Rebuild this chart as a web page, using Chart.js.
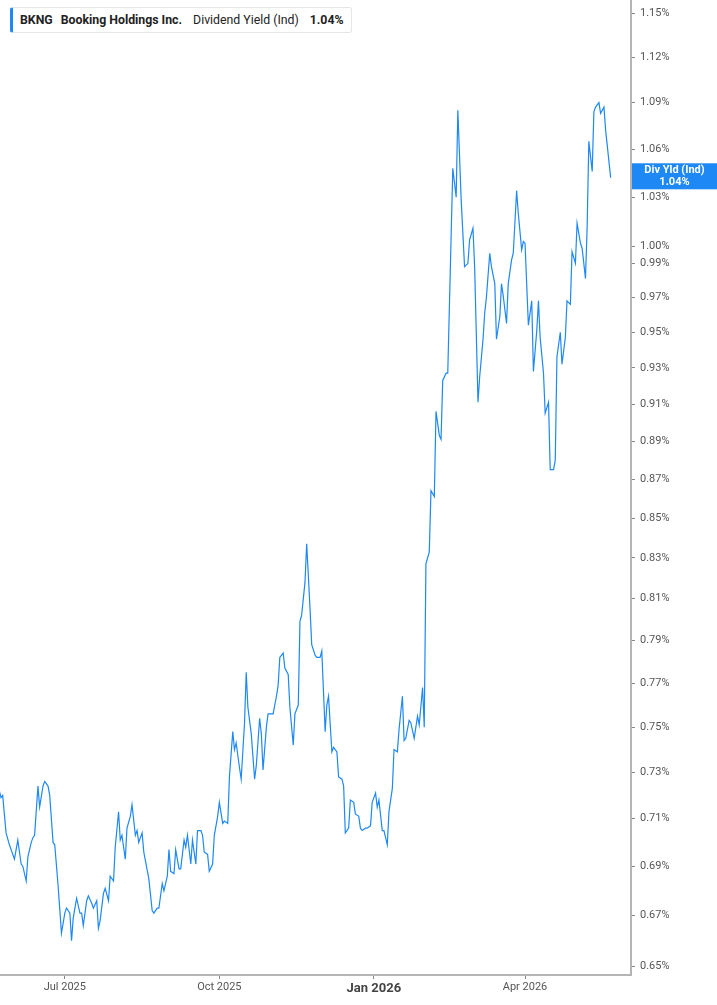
<!DOCTYPE html>
<html>
<head>
<meta charset="utf-8">
<script src="https://cdn.jsdelivr.net/npm/chart.js@4"></script>
<style>
  html, body { margin: 0; padding: 0; background: #fff; }
  #wrap { position: relative; width: 717px; height: 1005px; }
  #legend {
    position: absolute; left: 10px; top: 7px; height: 26px;
    padding: 0 7px 0 7px; box-sizing: border-box;
    border: 1px solid #e6e6e6; border-left: 3px solid #1e88f5; border-radius: 3px;
    background: #fff; display: flex; align-items: center;
    font: 12.3px Roboto, "Noto Sans", sans-serif; color: #222; white-space: nowrap;
  }
  #legend b { font-weight: 700; }
  #legend span { margin-right: 11px; }
  #legend span:first-child { margin-right: 8px; }
  #legend span:last-child { margin-right: 0; }
</style>
</head>
<body>
<div id="wrap">
  <canvas id="chart" width="717" height="1005"></canvas>
  <div id="legend">
    <span><b>BKNG</b></span>
    <span><b>Booking Holdings Inc.</b></span>
    <span>Dividend Yield (Ind)</span>
    <span><b>1.04%</b></span>
  </div>
</div>
<script>
document.addEventListener('DOMContentLoaded', function () {
    // dividend yield (%)
    const dates = [
        '2025-05-23','2025-05-24','2025-05-25','2025-05-27','2025-05-29','2025-06-01','2025-06-03','2025-06-05','2025-06-06','2025-06-08',
        '2025-06-09','2025-06-11','2025-06-12','2025-06-13','2025-06-15','2025-06-16','2025-06-18','2025-06-19','2025-06-21','2025-06-22',
        '2025-06-24','2025-06-25','2025-06-27','2025-06-29','2025-07-01','2025-07-02','2025-07-04','2025-07-05','2025-07-06','2025-07-08',
        '2025-07-10','2025-07-11','2025-07-12','2025-07-14','2025-07-15','2025-07-17','2025-07-18','2025-07-20','2025-07-21','2025-07-22',
        '2025-07-24','2025-07-25','2025-07-27','2025-07-28','2025-07-30','2025-07-31','2025-08-02','2025-08-03','2025-08-04','2025-08-06',
        '2025-08-07','2025-08-09','2025-08-10','2025-08-12','2025-08-13','2025-08-14','2025-08-16','2025-08-17','2025-08-20','2025-08-22',
        '2025-08-23','2025-08-25','2025-08-26','2025-08-28','2025-08-29','2025-08-31','2025-09-01','2025-09-02','2025-09-04','2025-09-05',
        '2025-09-07','2025-09-08','2025-09-10','2025-09-11','2025-09-12','2025-09-14','2025-09-15','2025-09-17','2025-09-18','2025-09-20',
        '2025-09-21','2025-09-22','2025-09-24','2025-09-25','2025-09-27','2025-09-28','2025-09-30','2025-10-01','2025-10-03','2025-10-04',
        '2025-10-06','2025-10-07','2025-10-09','2025-10-10','2025-10-11','2025-10-13','2025-10-14','2025-10-16','2025-10-17','2025-10-18',
        '2025-10-20','2025-10-22','2025-10-23','2025-10-25','2025-10-26','2025-10-27','2025-10-29','2025-10-30','2025-11-01','2025-11-02',
        '2025-11-04','2025-11-05','2025-11-06','2025-11-08','2025-11-09','2025-11-11','2025-11-12','2025-11-14','2025-11-15','2025-11-17',
        '2025-11-18','2025-11-19','2025-11-21','2025-11-22','2025-11-24','2025-11-25','2025-11-27','2025-11-28','2025-11-30','2025-12-01',
        '2025-12-03','2025-12-04','2025-12-05','2025-12-07','2025-12-08','2025-12-10','2025-12-11','2025-12-13','2025-12-14','2025-12-15',
        '2025-12-17','2025-12-18','2025-12-20','2025-12-21','2025-12-23','2025-12-24','2025-12-25','2025-12-27','2025-12-28','2025-12-30',
        '2025-12-31','2026-01-02','2026-01-03','2026-01-04','2026-01-06','2026-01-07','2026-01-09','2026-01-10','2026-01-12','2026-01-13',
        '2026-01-15','2026-01-16','2026-01-18','2026-01-19','2026-01-20','2026-01-22','2026-01-23','2026-01-25','2026-01-27','2026-01-28',
        '2026-01-30','2026-01-31','2026-02-01','2026-02-03','2026-02-04','2026-02-06','2026-02-07','2026-02-09','2026-02-10','2026-02-11',
        '2026-02-13','2026-02-14','2026-02-17','2026-02-19','2026-02-20','2026-02-22','2026-02-23','2026-02-24','2026-02-26','2026-02-27',
        '2026-03-01','2026-03-02','2026-03-04','2026-03-05','2026-03-07','2026-03-08','2026-03-09','2026-03-11','2026-03-12','2026-03-14',
        '2026-03-15','2026-03-17','2026-03-18','2026-03-19','2026-03-21','2026-03-22','2026-03-24','2026-03-25','2026-03-27','2026-03-28',
        '2026-03-30','2026-03-31','2026-04-01','2026-04-03','2026-04-05','2026-04-06','2026-04-08','2026-04-09','2026-04-10','2026-04-12',
        '2026-04-13','2026-04-15','2026-04-16','2026-04-18','2026-04-19','2026-04-20','2026-04-22','2026-04-23','2026-04-25','2026-04-26',
        '2026-04-28','2026-04-29','2026-05-01','2026-05-02','2026-05-04','2026-05-05','2026-05-07','2026-05-08','2026-05-09','2026-05-11',
        '2026-05-12','2026-05-13','2026-05-15','2026-05-16','2026-05-18','2026-05-19','2026-05-21','2026-05-22'
    ];
    const yieldPct = [
        0.722,0.719,0.720,0.704,0.699,0.693,0.701,0.691,0.690,0.684,
        0.694,0.700,0.702,0.703,0.724,0.715,0.724,0.726,0.724,0.720,
        0.700,0.699,0.682,0.663,0.671,0.673,0.671,0.660,0.669,0.677,
        0.671,0.671,0.666,0.676,0.678,0.675,0.673,0.676,0.665,0.668,
        0.679,0.681,0.676,0.686,0.684,0.698,0.713,0.701,0.703,0.693,
        0.706,0.711,0.716,0.703,0.705,0.700,0.704,0.696,0.685,0.672,
        0.671,0.673,0.673,0.683,0.680,0.686,0.697,0.688,0.687,0.697,
        0.689,0.689,0.701,0.698,0.703,0.691,0.701,0.691,0.705,0.705,
        0.703,0.696,0.695,0.688,0.691,0.703,0.711,0.717,0.708,0.709,
        0.708,0.728,0.748,0.740,0.743,0.732,0.727,0.752,0.775,0.759,
        0.747,0.727,0.733,0.754,0.747,0.731,0.750,0.756,0.756,0.756,
        0.764,0.769,0.782,0.784,0.777,0.774,0.759,0.742,0.756,0.760,
        0.799,0.802,0.818,0.837,0.805,0.788,0.783,0.782,0.782,0.785,
        0.748,0.760,0.764,0.739,0.741,0.739,0.728,0.727,0.724,0.704,
        0.706,0.718,0.717,0.712,0.711,0.706,0.705,0.706,0.706,0.707,
        0.717,0.721,0.715,0.718,0.705,0.705,0.699,0.713,0.723,0.740,
        0.739,0.749,0.764,0.744,0.745,0.753,0.752,0.745,0.755,0.751,
        0.768,0.750,0.827,0.833,0.864,0.861,0.906,0.893,0.891,0.923,
        0.927,0.927,1.048,1.030,1.085,1.028,1.008,0.988,0.990,1.004,
        1.011,0.988,0.911,0.925,0.946,0.961,0.970,0.996,0.988,0.978,
        0.946,0.959,0.978,0.971,0.955,0.978,0.992,0.996,1.034,1.020,
        0.998,1.003,1.002,0.954,0.968,0.928,0.951,0.968,0.947,0.927,
        0.905,0.911,0.875,0.875,0.880,0.936,0.950,0.932,0.947,0.968,
        0.966,0.997,0.990,1.014,1.002,0.999,0.981,1.012,1.065,1.046,
        1.084,1.087,1.090,1.083,1.087,1.072,1.052,1.042
    ];
    const yTicks = [0.65, 0.67, 0.69, 0.71, 0.73, 0.75, 0.77, 0.79, 0.81, 0.83, 0.85, 0.87,
                    0.89, 0.91, 0.93, 0.95, 0.97, 0.99, 1.00, 1.03, 1.06, 1.09, 1.12, 1.15];
    const monthTicks = ['2025-07-01', '2025-10-01', '2026-01-01', '2026-04-01'];
    const monthLabels = ['Jul 2025', 'Oct 2025', 'Jan 2026', 'Apr 2026'];

    const toDay = s => Date.UTC(+s.slice(0, 4), +s.slice(5, 7) - 1, +s.slice(8, 10)) / 86400000;
    const points = dates.map((d, i) => ({ x: toDay(d), y: yieldPct[i] }));
    const monthDays = monthTicks.map(toDay);
    const janDay = toDay('2026-01-01');
    const lastValue = yieldPct[yieldPct.length - 1];

    const lineColor = '#1e88f5';

    // blue tag on the right axis with the latest value
    const valueTag = {
        id: 'valueTag',
        afterDraw(chart) {
            const ctx = chart.ctx;
            const y = chart.scales.y.getPixelForValue(lastValue) - 1.5;
            const left = chart.chartArea.right + 1;
            ctx.save();
            ctx.fillStyle = lineColor;
            ctx.fillRect(left, y - 13, chart.width - left, 26);
            ctx.fillStyle = '#fff';
            ctx.font = 'bold 11px Roboto, sans-serif';
            ctx.textAlign = 'center';
            ctx.textBaseline = 'middle';
            const cx = (left + chart.width) / 2;
            ctx.fillText('Div Yld (Ind)', cx, y - 6);
            ctx.fillText(lastValue.toFixed(2) + '%', cx, y + 6);
            ctx.restore();
        }
    };

    // no extra room for overflowing labels, the plot runs edge to edge
    const noPad = scale => {
        scale.paddingTop = 0;
        scale.paddingBottom = 0;
        scale.paddingLeft = 0;
        scale.paddingRight = 0;
    };

    new Chart(document.getElementById('chart').getContext('2d'), {
        type: 'line',
        data: {
            datasets: [{
                label: 'Dividend Yield (Ind)',
                data: points,
                borderColor: lineColor,
                borderWidth: 1.2,
                pointRadius: 0,
                fill: false,
                tension: 0
            }]
        },
        options: {
            responsive: false,
            animation: false,
            layout: { padding: 0 },
            plugins: {
                legend: { display: false },
                tooltip: { enabled: false }
            },
            scales: {
                x: {
                    type: 'linear',
                    min: toDay('2025-05-23') + 0.4,
                    max: toDay('2026-06-03') + 0.1,
                    afterBuildTicks: scale => { scale.ticks = monthDays.map(v => ({ value: v })); },
                    afterFit: scale => { scale.height = 30; noPad(scale); },
                    grid: { drawOnChartArea: false, drawTicks: true, tickLength: 4, tickColor: '#888' },
                    border: { display: true, color: '#b4b4b4', width: 2 },
                    ticks: {
                        autoSkip: false,
                        maxRotation: 0,
                        padding: 2,
                        color: ctx => ctx.tick && ctx.tick.value === janDay ? '#444' : '#555',
                        font: ctx => ctx.tick && ctx.tick.value === janDay
                            ? { family: 'Roboto', size: 13, weight: 'bold' }
                            : { family: 'Roboto', size: 11 },
                        callback: v => monthLabels[monthDays.indexOf(v)]
                    }
                },
                y: {
                    type: 'logarithmic',
                    position: 'right',
                    min: 0.6466,
                    max: 1.159,
                    afterBuildTicks: scale => { scale.ticks = yTicks.map(v => ({ value: v })); },
                    afterFit: scale => { scale.width = 86; noPad(scale); },
                    grid: { drawOnChartArea: false, drawTicks: true, tickLength: 4, tickColor: '#888' },
                    border: { display: true, color: '#b4b4b4', width: 2 },
                    ticks: {
                        autoSkip: false,
                        padding: 5,
                        color: '#555',
                        font: { family: 'Roboto', size: 11 },
                        callback: v => Number(v).toFixed(2) + '%'
                    }
                }
            }
        },
        plugins: [valueTag]
    });
});
</script>
</body>
</html>
